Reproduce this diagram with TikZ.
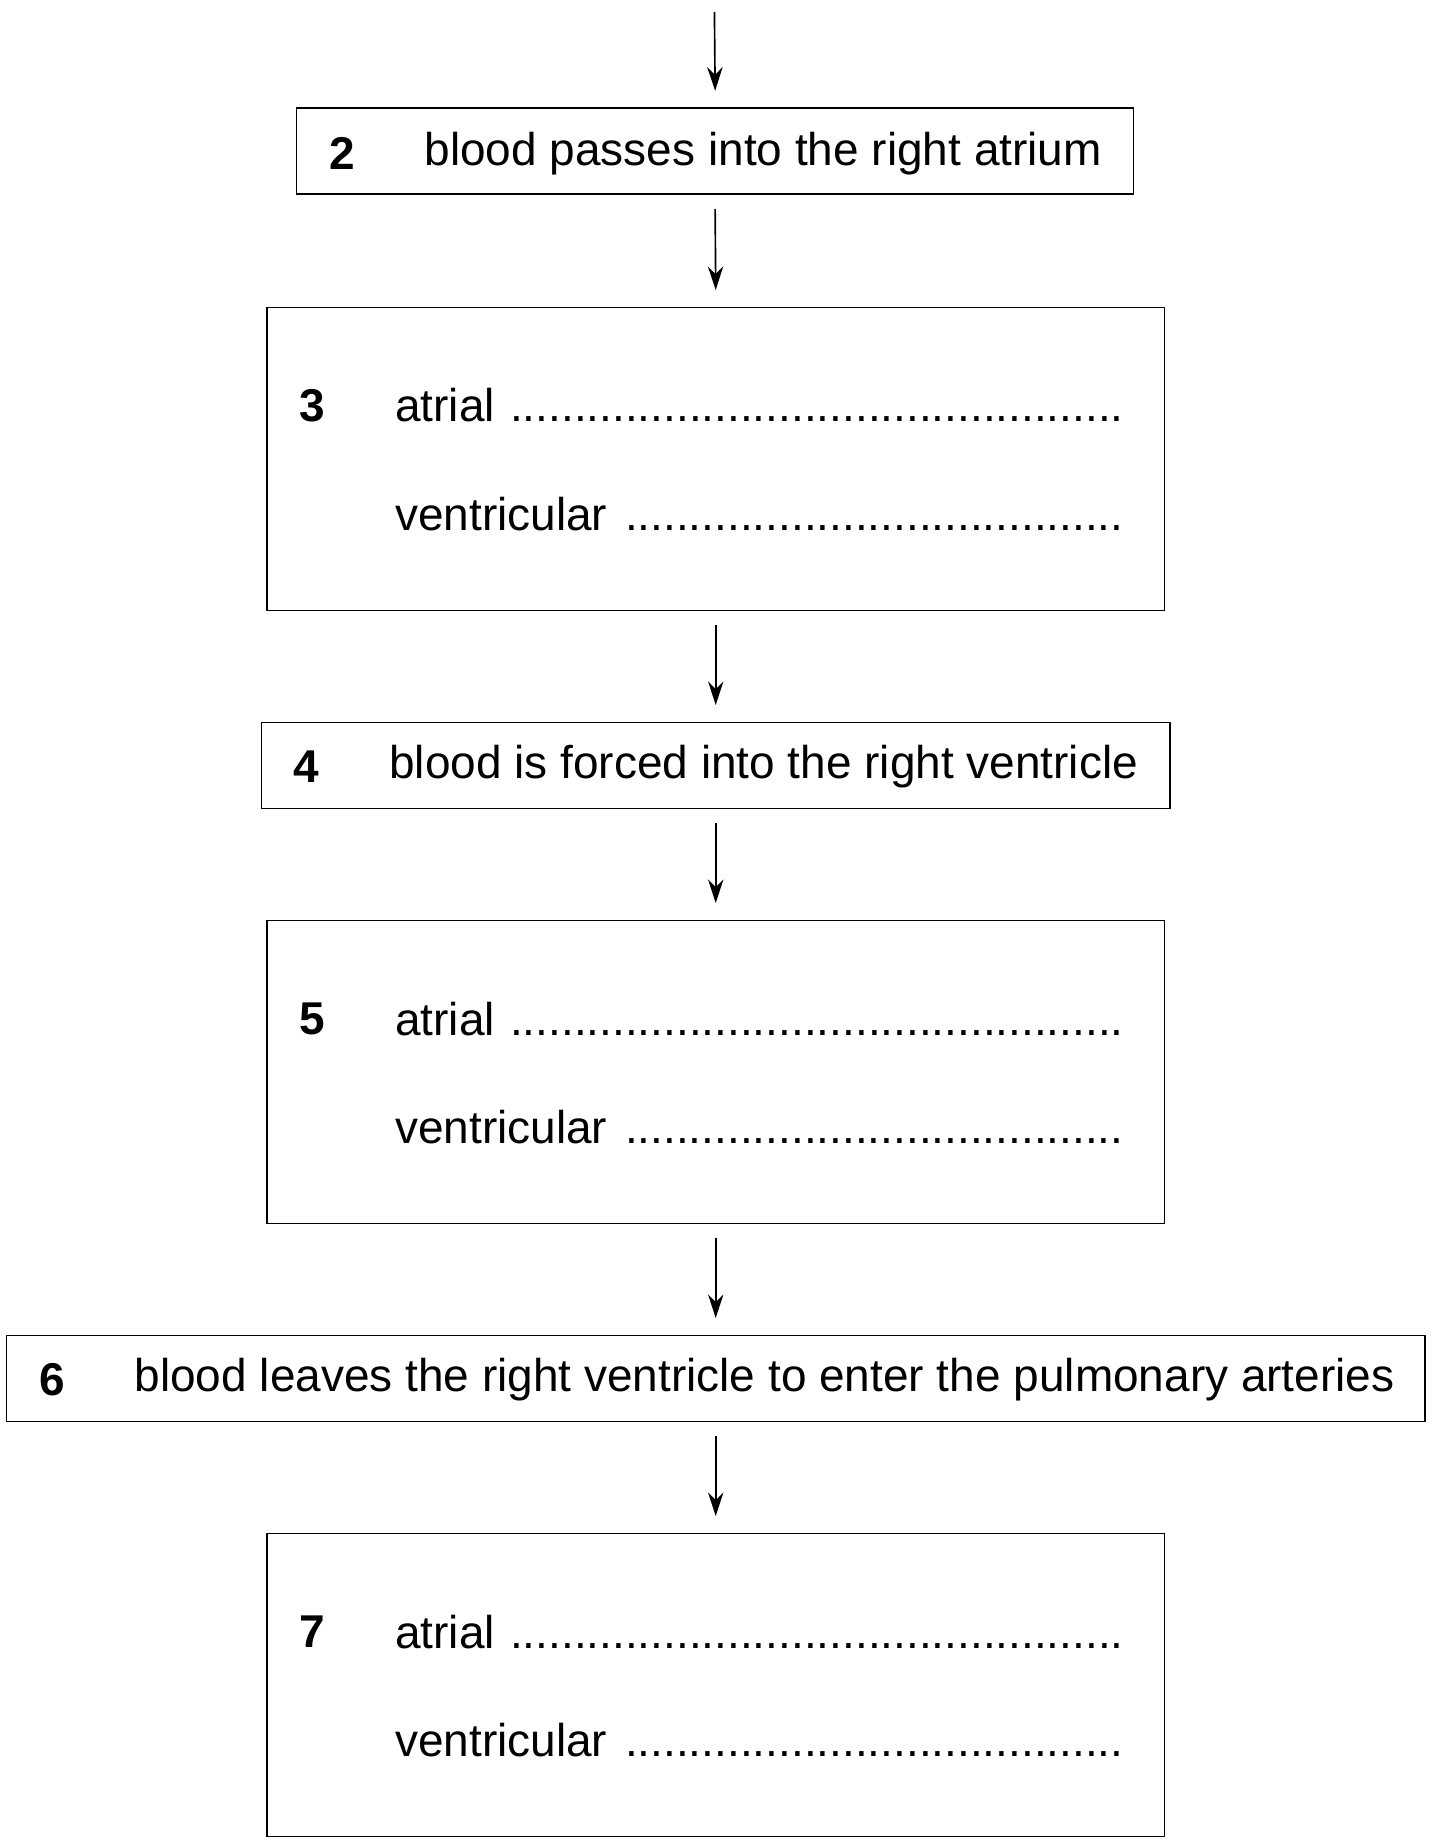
\documentclass[tikz,border=0pt]{standalone}
\usetikzlibrary{arrows.meta}
\usepackage{fontspec}
\setmainfont{Liberation Sans}
\newcommand{\dotline}[2]{\makebox[#1][l]{#2 \leaders\hbox{.}\hfill}}
\begin{document}
\begin{tikzpicture}[x=1pt,y=-1pt,
  box/.style={draw,line width=1.2pt},
  arr/.style={-{Stealth[length=20pt,width=13pt]},line width=1.4pt},
  lbl/.style={anchor=west,inner sep=0,font=\fontsize{39}{44}\selectfont},
  num/.style={lbl,font=\fontsize{39}{44}\selectfont\bfseries,anchor=center}]
\useasboundingbox (0,0) rectangle (1215,1565);
\coordinate (t0) at (606,10);
\node[box,minimum width=710,minimum height=73,anchor=north west] (b2) at (251,91) {};
\node[box,minimum width=761,minimum height=257,anchor=north west] (b3) at (226,260) {};
\node[box,minimum width=771,minimum height=73,anchor=north west] (b4) at (221,612) {};
\node[box,minimum width=761,minimum height=257,anchor=north west] (b5) at (226,780) {};
\node[box,minimum width=1203,minimum height=73,anchor=north west] (b6) at (5,1132) {};
\node[box,minimum width=761,minimum height=257,anchor=north west] (b7) at (226,1300) {};
\foreach \a/\b in {b2/b3,b3/b4,b4/b5,b5/b6,b6/b7}{
  \draw[arr] ([yshift=-12]\a.south) -- ([yshift=14]\b.north);}
\draw[arr] (t0) -- ([yshift=14]b2.north);
\node[num] (n2) at (290,130) {2};
\node[lbl] (l2) at (360,130) {blood passes into the right atrium};
\node[num] (n4) at (260,650) {4};
\node[lbl] (l4) at (330,650) {blood is forced into the right ventricle};
\node[num] (n6) at (44,1170) {6};
\node[lbl] (l6) at (114,1170) {blood leaves the right ventricle to enter the pulmonary arteries};
\foreach \n/\y in {3/344,5/864,7/1384}{
  \node[num] (n\n) at (265,\y) {\n};
  \node[lbl] (a\n) at (335,\y) {\dotline{623pt}{atrial}};
  \node[lbl] (v\n) at (335,\y+92) {\dotline{623pt}{ventricular}};
}
\end{tikzpicture}
\end{document}
